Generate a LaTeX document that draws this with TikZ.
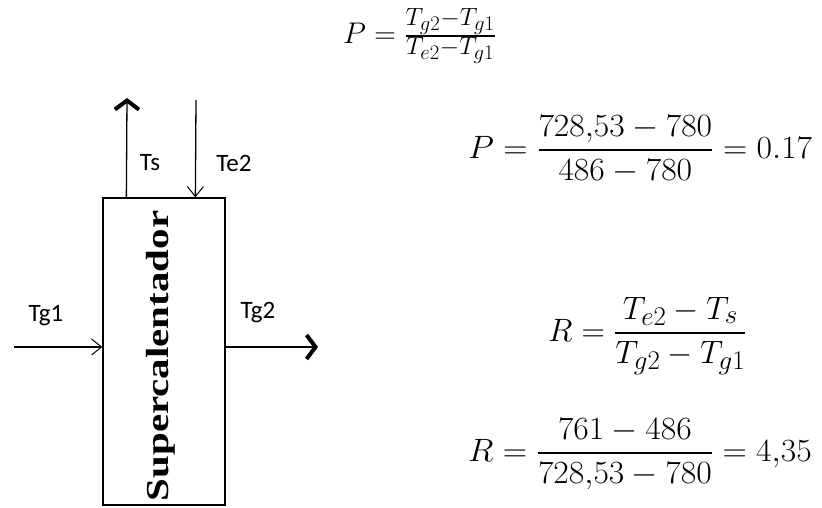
\documentclass[tikz,border=0pt]{standalone}
\usepackage{fontspec}
\usepackage{amsmath}
\usetikzlibrary{arrows.meta,calc}
\newfontfamily\lblfont{Carlito}
\newfontfamily\boxfont{Liberation Serif}
\newcommand{\eqbox}[2][1.3]{\scalebox{#1}{\fontsize{24.88}{30}\selectfont #2}}
\tikzset{
  lbl/.style={font=\lblfont\fontsize{25}{29}\selectfont, inner sep=0pt},
  eqn/.style={inner sep=0pt, anchor=base west},
  flow/.style={line width=1.3pt},
  boldtip/.style={flow, -{Straight Barb[length=9pt,width=24pt,line width=4pt]}},
  thintip/.style={flow, -{Straight Barb[length=10pt,width=16pt,line width=1pt]}},
}
\begin{document}
\begin{tikzpicture}[x=1pt,y=-1pt]
\useasboundingbox (0,0) rectangle (822,508);
\fill[white] (0,0) rectangle (822,508);
% box
\node[draw, line width=1.3pt, minimum width=122pt, minimum height=307pt, inner sep=0pt] (box) at (164,351.5) {};
\node[rotate=90, font=\boxfont\bfseries\fontsize{32}{34}\selectfont, inner sep=0pt] (name) at (161,356) {\scalebox{1.28}[1]{Supercalentador}};
% connectors
\coordinate (tsS) at ($(box.north west)+(24,0)$);
\coordinate (tsE) at (127,98);
\draw[boldtip] (tsS) -- (tsE);
\coordinate (teS) at (196,100);
\coordinate (teE) at ($(box.north west)+(93,0)$);
\draw[thintip] (teS) -- (teE);
\coordinate (g1S) at (14,347);
\coordinate (g1E) at (box.west |- g1S);
\draw[thintip] (g1S) -- (g1E);
\coordinate (g2S) at (box.east |- g1S);
\coordinate (g2E) at (318,347);
\draw[boldtip] (g2S) -- (g2E);
% labels
\node[lbl] (ts) at (150,163) {Ts};
\node[lbl] (te) at (234,163) {Te2};
\node[lbl] (tg1) at (46,316) {Tg1};
\node[lbl] (tg2) at (258,313) {Tg2};
% equations
\node[eqn] (eq1) at (343,43.5) {\eqbox[1.2]{$P=\frac{T_{g2}-T_{g1}}{T_{e2}-T_{g1}}$}};
\node[eqn] (eq2) at (468,158) {\eqbox{\scalebox{1.04}[1]{$\displaystyle P=\frac{728{,}53-780}{486-780}=0.17$}}};
\node[eqn] (eq3) at (548,341) {\eqbox{$\displaystyle R=\frac{T_{e2}-T_{s}}{T_{g2}-T_{g1}}$}};
\node[eqn] (eq4) at (468,461) {\eqbox{\scalebox{1.04}[1]{$\displaystyle R=\frac{761-486}{728{,}53-780}=4{,}35$}}};
\end{tikzpicture}
\end{document}
